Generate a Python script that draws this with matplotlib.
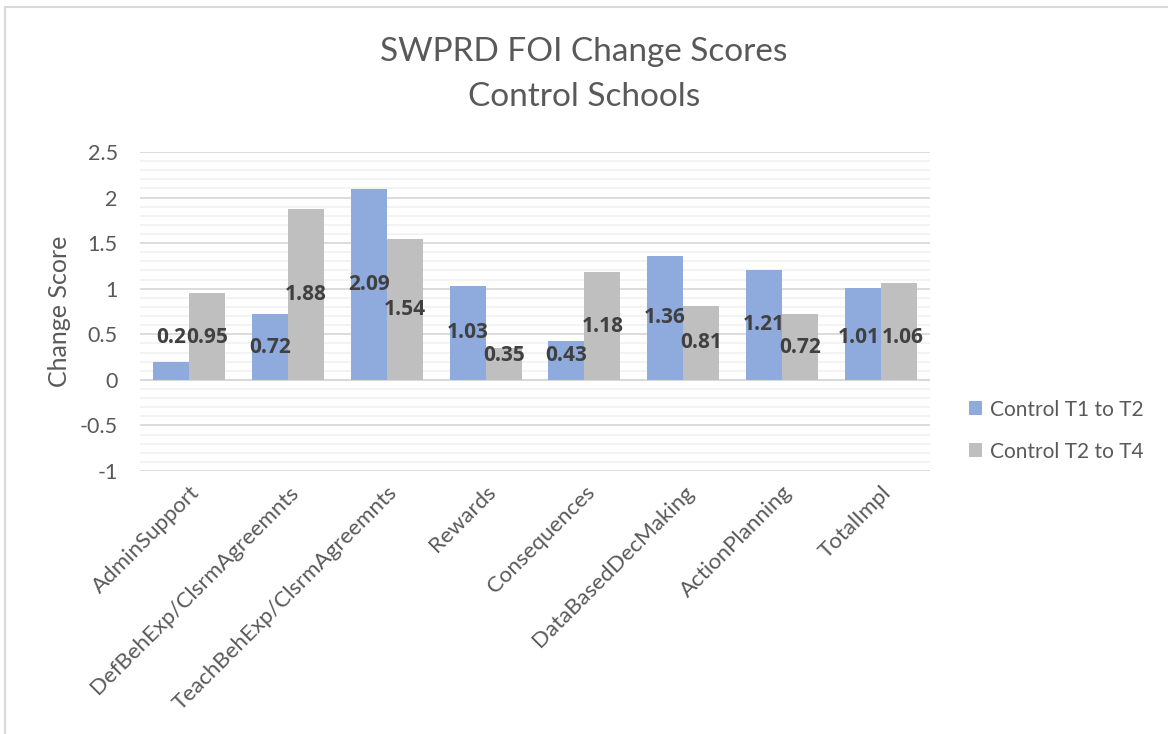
import matplotlib
matplotlib.use("Agg")
import matplotlib.pyplot as plt
import numpy as np
from matplotlib.patches import Rectangle
from matplotlib.ticker import MultipleLocator

plt.rcParams['font.family'] = ['Lato', 'DejaVu Sans']

# ----- DATA
categories = ["AdminSupport", "DefBehExp/ClsrmAgreemnts", "TeachBehExp/ClsrmAgreemnts",
              "Rewards", "Consequences", "DataBasedDecMaking", "ActionPlanning", "TotalImpl"]
t1_t2 = [0.2, 0.72, 2.09, 1.03, 0.43, 1.36, 1.21, 1.01]
t2_t4 = [0.95, 1.88, 1.54, 0.35, 1.18, 0.81, 0.72, 1.06]
series_names = ["Control T1 to T2", "Control T2 to T4"]

BLUE = "#8FAADC"
GRAY = "#BFBFBF"
TXT = "#595959"

W, H = 1168, 734
fig = plt.figure(figsize=(W / 100, H / 100), dpi=100)
ax = fig.add_axes([140 / W, 1 - 471 / H, 790 / W, 319 / H])

x = np.arange(len(categories))
w = 0.365
b1 = ax.bar(x - w / 2, t1_t2, w, color=BLUE, zorder=3, label=series_names[0])
b2 = ax.bar(x + w / 2, t2_t4, w, color=GRAY, zorder=3, label=series_names[1])

# ----- DATA LABELS (centered, kept off the axis line)
def label_y(v):
    return max(v / 2, 0.27)

lab_kw = dict(ha="center", va="center", fontsize=15, fontweight="bold",
              family=["Open Sans", "DejaVu Sans"], color="#404040", zorder=4)
for i, (v1, v2) in enumerate(zip(t1_t2, t2_t4)):
    y1, y2 = label_y(v1), label_y(v2)
    dx = 0
    if i == 0:
        y1 = y2 = 0.46
    if categories[i] == "TotalImpl":
        y1 = y2 = 0.47
        dx = 0.04
    ax.text(x[i] - w / 2 - dx, y1, f"{v1:g}", **lab_kw)
    ax.text(x[i] + w / 2 + dx, y2, f"{v2:g}", **lab_kw)

ax.set_xlim(-0.5, len(categories) - 0.5)
ax.set_ylim(-1, 2.5)
ax.yaxis.set_minor_locator(MultipleLocator(0.1))
ax.set_yticks([-1, -0.5, 0, 0.5, 1, 1.5, 2, 2.5])
ax.set_yticklabels(["-1", "-0.5", "0", "0.5", "1", "1.5", "2", "2.5"])
ax.grid(which="major", axis="y", color="#D9D9D9", linewidth=1.3, zorder=0)
ax.grid(which="minor", axis="y", color="#F2F2F2", linewidth=1.3, zorder=0)
ax.axhline(0, color="#D9D9D9", linewidth=1.5, zorder=2)
for s in ax.spines.values():
    s.set_visible(False)
ax.tick_params(axis="both", which="both", length=0)
ax.tick_params(axis="y", labelsize=15.5, labelcolor=TXT, pad=16)
ax.set_xticks(x)
ax.set_xticklabels(categories, rotation=45, ha="right", rotation_mode="anchor",
                   fontsize=16, color=TXT)
ax.tick_params(axis="x", pad=8)
ax.set_ylabel("Change Score", fontsize=18, color=TXT, labelpad=6)

# ----- TITLE
fig.text(0.5, 1 - 52 / H, "SWPRD FOI Change Scores", ha="center", va="center",
         fontsize=24, color=TXT)
fig.text(0.5, 1 - 97 / H, "Control Schools", ha="center", va="center",
         fontsize=24, color=TXT)

leg = fig.legend(handles=[b1, b2], loc="upper left", bbox_to_anchor=(950 / W, 1 - 381 / H),
                 frameon=False, fontsize=15, handlelength=0.65, handleheight=0.65,
                 handletextpad=0.35, labelspacing=1.05)
for t in leg.get_texts():
    t.set_color(TXT)

# chart border
fig.patches.append(Rectangle((5 / W, -0.1), 1.2, 1 - 7 / H + 0.1, transform=fig.transFigure,
                             fill=False, edgecolor="#D9D9D9", linewidth=1.5))

fig.savefig("out.png", dpi=100)
